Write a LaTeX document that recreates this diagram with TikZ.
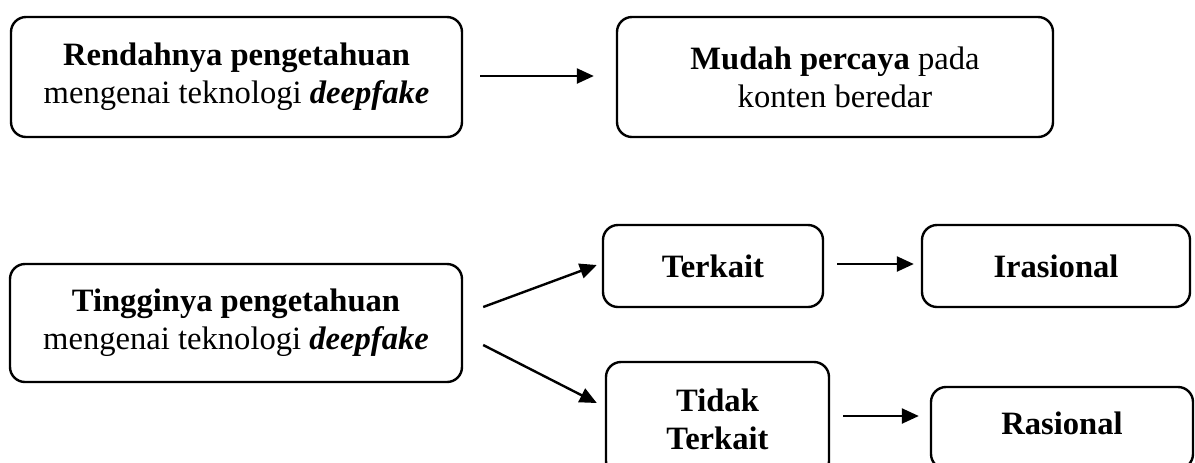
\documentclass[tikz,border=0pt]{standalone}
\usepackage{fontspec}
\setmainfont{Liberation Serif}
\usetikzlibrary{arrows.meta}
\begin{document}
\begin{tikzpicture}[x=0.5pt,y=-0.5pt,
  box/.style={draw=black, line width=1.2pt, rounded corners=7.5pt, align=center,
    inner sep=0pt, font=\fontsize{16.3}{19}\selectfont},
  arr/.style={line width=1.2pt, -{Triangle[length=8.5pt,width=7.5pt]}}]
\useasboundingbox (0,0) rectangle (1195,462);
\clip (0,0) rectangle (1195,462);
\node[box, minimum width=225.5pt, minimum height=60pt] (b1) at (236.5,77)
  {\textbf{Rendahnya pengetahuan}\\mengenai teknologi \textbf{\textit{deepfake}}};
\node[box, minimum width=218pt, minimum height=60pt] (b2) at (835,77)
  {\textbf{Mudah percaya} pada\\konten beredar};
\node[box, minimum width=226pt, minimum height=59pt] (b3) at (236,323)
  {\textbf{Tingginya pengetahuan}\\mengenai teknologi \textbf{\textit{deepfake}}};
\node[box, minimum width=110pt, minimum height=41pt] (tk) at (713,266)
  {\textbf{Terkait}};
\node[box, minimum width=134pt, minimum height=41pt] (ir) at (1056,266)
  {\textbf{Irasional}};
\node[box, minimum width=111.5pt, minimum height=57pt] (tt) at (717.5,419)
  {\textbf{Tidak}\\\textbf{Terkait}};
\node[box, minimum width=131pt, minimum height=41pt, text depth=5pt] (ra) at (1062,428)
  {\textbf{Rasional}};
\draw[arr] ([xshift=8.5pt,yshift=0.5pt]b1.east) -- ([xshift=-11pt,yshift=0.5pt]b2.west);
\draw[arr] ([xshift=10pt,yshift=8pt]b3.east) -- ([xshift=-2.5pt,yshift=0.5pt]tk.west);
\draw[arr] ([xshift=10pt,yshift=-11pt]b3.east) -- ([xshift=-4pt,yshift=8pt]tt.west);
\draw[arr] ([xshift=6.5pt,yshift=1pt]tk.east) -- ([xshift=-3.5pt,yshift=1pt]ir.west);
\draw[arr] ([xshift=6.5pt,yshift=1.5pt]tt.east) -- ([xshift=-5.5pt,yshift=1.5pt]tt.east -| ra.west);
\end{tikzpicture}
\end{document}
